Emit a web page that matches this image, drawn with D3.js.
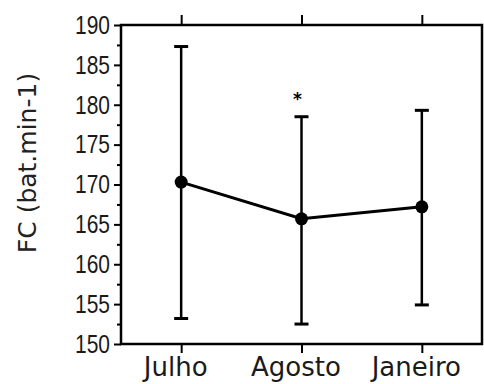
<!DOCTYPE html>
<html>
<head>
<meta charset="utf-8">
<script src="https://cdn.jsdelivr.net/npm/d3@7"></script>
<style>
  body { margin: 0; background: #fff; }
  svg { display: block; }
</style>
</head>
<body>
<script>
"use strict";

// values
const months = ["Julho", "Agosto", "Janeiro"];
const means = [170.3, 165.7, 167.2];
const upper = [187.3, 178.5, 179.3];
const lower = [153.2, 152.5, 154.9];
const marks = ["", "*", ""];
const majorTicks = [150, 155, 160, 165, 170, 175, 180, 185, 190];
const minorTicks = [152.5, 157.5, 162.5, 167.5, 172.5, 177.5, 182.5, 187.5];

var width = 484,
    height = 384,
    margin = {top: 25, right: 2, bottom: 40, left: 121};

var rows = months.map(function(m, i) {
  return {month: m, mean: means[i], hi: upper[i], lo: lower[i], mark: marks[i]};
});

var x = d3.scalePoint()
    .domain(months)
    .range([margin.left, width - margin.right])
    .padding(0.5);

var y = d3.scaleLinear()
    .domain([150, 190])
    .range([height - margin.bottom, margin.top]);

var svg = d3.select("body").append("svg")
    .attr("width", width)
    .attr("height", height);

// frame
svg.append("rect")
    .attr("x", margin.left)
    .attr("y", margin.top)
    .attr("width", width - margin.right - margin.left)
    .attr("height", height - margin.bottom - margin.top)
    .attr("fill", "none")
    .attr("stroke", "#000")
    .attr("stroke-width", 2.5);

// y axis, major + minor
var yAxis = svg.append("g")
    .attr("transform", "translate(" + margin.left + ",0)")
    .call(d3.axisLeft(y).tickValues(majorTicks).tickSize(7).tickPadding(4));

svg.append("g")
    .attr("transform", "translate(" + margin.left + ",0)")
    .call(d3.axisLeft(y).tickValues(minorTicks).tickSize(4).tickFormat(""));

// x axes bottom and top
svg.append("g")
    .attr("transform", "translate(0," + (height - margin.bottom) + ")")
    .attr("class", "xaxis")
    .call(d3.axisBottom(x).tickSize(9).tickPadding(5));

svg.append("g")
    .attr("transform", "translate(0," + margin.top + ")")
    .call(d3.axisTop(x).tickSize(10).tickFormat(""));

svg.selectAll(".domain").remove();
svg.selectAll(".tick line").attr("stroke", "#000").attr("stroke-width", 2);

// the original digits are narrow, squeeze them
yAxis.selectAll("text")
    .style("font-family", "'Liberation Sans', sans-serif")
    .style("font-size", "26px")
    .attr("textLength", 35)
    .attr("lengthAdjust", "spacingAndGlyphs")
    .attr("fill", "#1a1a1a");

// labels sit a bit left of their ticks in the original
svg.selectAll(".xaxis text")
    .style("font-family", "'DejaVu Sans', sans-serif")
    .style("font-size", "26px")
    .attr("dx", -6)
    .attr("fill", "#1a1a1a");

// y title
svg.append("text")
    .attr("transform", "translate(36,163) rotate(-90)")
    .attr("text-anchor", "middle")
    .style("font-family", "'DejaVu Sans', sans-serif")
    .style("font-size", "25px")
    .attr("fill", "#222")
    .text("FC (bat.min-1)");

// error bars
var bars = svg.append("g").selectAll("g")
    .data(rows)
  .enter().append("g");

bars.append("line")
    .attr("x1", function(d) { return x(d.month); })
    .attr("x2", function(d) { return x(d.month); })
    .attr("y1", function(d) { return y(d.lo); })
    .attr("y2", function(d) { return y(d.hi); })
    .attr("stroke", "#000")
    .attr("stroke-width", 2.5);

bars.selectAll(".cap")
    .data(function(d) { return [{m: d.month, v: d.hi}, {m: d.month, v: d.lo}]; })
  .enter().append("line")
    .attr("class", "cap")
    .attr("x1", function(d) { return x(d.m) - 7; })
    .attr("x2", function(d) { return x(d.m) + 7; })
    .attr("y1", function(d) { return y(d.v); })
    .attr("y2", function(d) { return y(d.v); })
    .attr("stroke", "#000")
    .attr("stroke-width", 3);

// mean line
var line = d3.line()
    .x(function(d) { return x(d.month); })
    .y(function(d) { return y(d.mean); });

svg.append("path")
    .datum(rows)
    .attr("d", line)
    .attr("fill", "none")
    .attr("stroke", "#000")
    .attr("stroke-width", 3);

svg.append("g").selectAll("circle")
    .data(rows)
  .enter().append("circle")
    .attr("cx", function(d) { return x(d.month); })
    .attr("cy", function(d) { return y(d.mean); })
    .attr("r", 6.5)
    .attr("fill", "#000");

// significance mark
svg.append("g").selectAll("text")
    .data(rows.filter(function(d) { return d.mark; }))
  .enter().append("text")
    .attr("x", function(d) { return x(d.month) - 4; })
    .attr("y", function(d) { return y(d.hi) - 12; })
    .attr("text-anchor", "middle")
    .style("font-family", "'DejaVu Sans', sans-serif")
    .style("font-size", "17px")
    .style("font-weight", "bold")
    .text(function(d) { return d.mark; });
</script>
</body>
</html>
